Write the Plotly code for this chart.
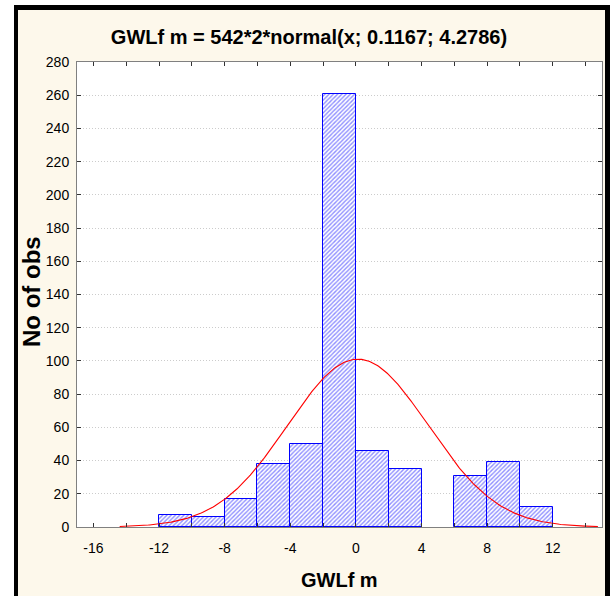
import numpy as np
import plotly.graph_objects as go

# ---- data ----
bin_left = [-12, -10, -8, -6, -4, -2, 0, 2, 4, 6, 8, 10]
counts = [7, 6, 17, 38, 50, 261, 46, 35, 0, 31, 39, 12]
bin_width = 2
n_obs = 542
fit_mean = 0.1167
fit_sd = 4.2786
curve_x_min, curve_x_max = -14.4, 14.75
x_tick_vals = list(range(-16, 16, 2))
x_tick_text = [str(v) if v % 4 == 0 else "" for v in x_tick_vals]
y_tick_vals = list(range(0, 281, 20))

# ---- layout geometry (pixels) ----
W, H = 610, 596
L, R, T, B = 77, 8, 62, 69
pw, ph = W - L - R, H - T - B

def px(x):
    return (x - L) / pw

def py(y):
    return (H - B - y) / ph

FONT = "Liberation Sans, Arial, sans-serif"

centers = [b + bin_width / 2 for b in bin_left]
bar_y = [c if c > 0 else None for c in counts]

cx = np.linspace(curve_x_min, curve_x_max, 400)
cy = n_obs * bin_width * np.exp(-0.5 * ((cx - fit_mean) / fit_sd) ** 2) / (fit_sd * np.sqrt(2 * np.pi))

fig = go.Figure()
fig.add_trace(go.Bar(
    x=centers, y=bar_y, width=bin_width,
    marker=dict(color="white", line=dict(color="#0000FF", width=1),
                pattern=dict(shape="/", fgcolor="#2020FF", bgcolor="white", size=3, solidity=0.45)),
    hoverinfo="skip", showlegend=False,
))
fig.add_trace(go.Scatter(x=cx, y=cy, mode="lines", line=dict(color="#FF0000", width=1.1),
                         showlegend=False, hoverinfo="skip"))

shapes = [
    dict(type="rect", xref="paper", yref="paper", x0=px(18), x1=px(605), y0=py(596), y1=py(10),
         fillcolor="#FDF8EB", line=dict(width=0), layer="below"),
    dict(type="rect", xref="paper", yref="paper", x0=px(14), x1=px(18), y0=py(596), y1=py(5),
         fillcolor="black", line=dict(width=0), layer="below"),
    dict(type="rect", xref="paper", yref="paper", x0=px(14), x1=px(610), y0=py(10), y1=py(5),
         fillcolor="black", line=dict(width=0), layer="below"),
    dict(type="rect", xref="paper", yref="paper", x0=px(605), x1=px(610), y0=py(596), y1=py(5),
         fillcolor="black", line=dict(width=0), layer="below"),
    dict(type="rect", xref="paper", yref="paper", x0=0, x1=1, y0=0, y1=1,
         fillcolor="white", line=dict(width=0), layer="below"),
]

annotations = [
    dict(text="<b>GWLf m</b>", xref="paper", yref="paper", x=0.5, y=py(580), xanchor="center",
         yanchor="middle", showarrow=False, font=dict(family=FONT, size=20, color="black")),
    dict(text="<b>No of obs</b>", xref="paper", yref="paper", x=px(31), y=py(292), xanchor="center",
         yanchor="middle", textangle=-90, showarrow=False, font=dict(family=FONT, size=24, color="black")),
]

fig.update_layout(
    width=W, height=H,
    margin=dict(l=L, r=R, t=T, b=B, pad=0),
    paper_bgcolor="white", plot_bgcolor="white",
    bargap=0,
    title=dict(text="<b>GWLf m = 542*2*normal(x; 0.1167; 4.2786)</b>", x=309 / W, xref="container",
               xanchor="center", y=1 - 37 / H, yref="container", yanchor="middle",
               font=dict(family=FONT, size=20, color="black")),
    shapes=shapes, annotations=annotations,
    font=dict(family=FONT, size=14, color="black"),
)
fig.update_xaxes(range=[-17, 15], tickvals=x_tick_vals, ticktext=x_tick_text,
                 showgrid=False, zeroline=False, showline=True, linecolor="#808080", linewidth=1,
                 mirror="ticks", ticks="inside", ticklen=4, tickcolor="#333333",
                 tickfont=dict(family=FONT, size=14, color="black"), ticklabelstandoff=8)
fig.update_yaxes(range=[0, 280], tickvals=y_tick_vals,
                 showgrid=True, gridcolor="#CCCCCC", griddash="1px,2px", gridwidth=1,
                 zeroline=False, showline=True, linecolor="#808080", linewidth=1,
                 mirror="ticks", ticks="inside", ticklen=4, tickcolor="#333333",
                 tickfont=dict(family=FONT, size=14, color="black"), ticklabelstandoff=4)

fig.write_html("out.html")
